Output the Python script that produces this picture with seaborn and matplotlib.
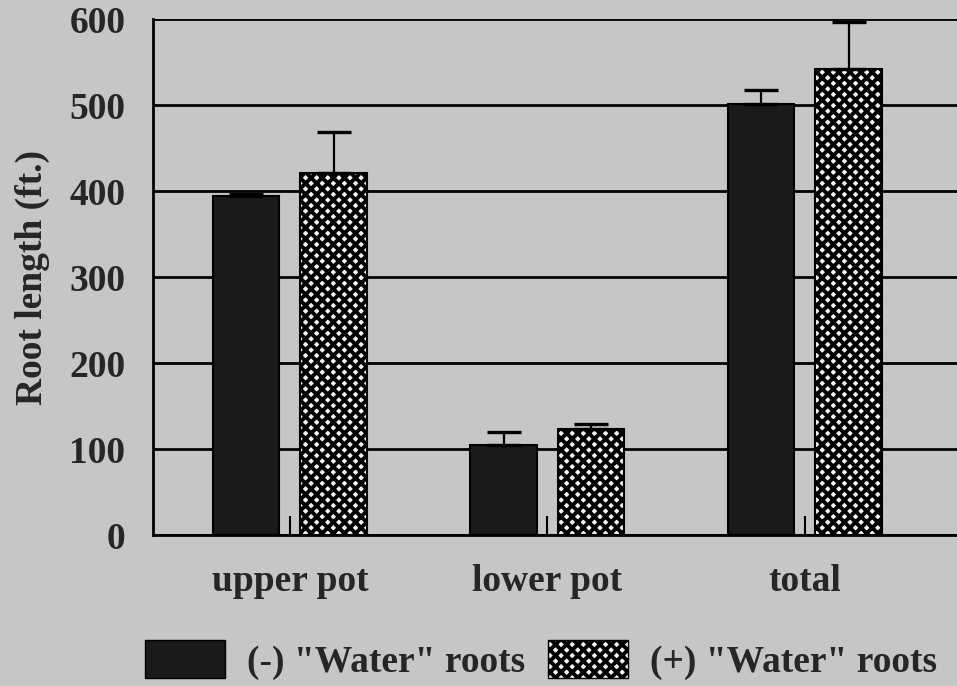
import matplotlib
matplotlib.use("Agg")
import matplotlib.pyplot as plt
import seaborn as sns
import pandas as pd
import numpy as np
from matplotlib.patches import Patch

categories = ["upper pot", "lower pot", "total"]
groups = ['(-) "Water" roots', '(+) "Water" roots']
minus_values = [394, 105, 501]
plus_values = [421, 123, 542]
minus_err = [3, 15, 17]
plus_err = [48, 6, 55]
yticks = [0, 100, 200, 300, 400, 500, 600]

bg = "#c6c6c6"
dark = "#1a1a1a"
hatch = "xxx"
fs = 27

sns.set_theme(style="white")
plt.rcParams["font.family"] = ["Liberation Serif", "DejaVu Serif"]
plt.rcParams["font.weight"] = "bold"
plt.rcParams["hatch.linewidth"] = 2.8
plt.rcParams["hatch.color"] = "#111111"

df = pd.DataFrame({
    "category": categories * 2,
    "group": [groups[0]] * 3 + [groups[1]] * 3,
    "value": minus_values + plus_values,
    "err": minus_err + plus_err,
})

fig = plt.figure(figsize=(9.57, 6.86), dpi=100)
fig.patch.set_facecolor(bg)
ax = fig.add_axes([0.160, 0.220, 0.845, 0.752])
ax.set_facecolor(bg)

sns.barplot(data=df, x="category", y="value", hue="group", order=categories,
            hue_order=groups, palette=[dark, "#ffffff"], width=0.68,
            gap=0.24, edgecolor="black", linewidth=1.5, legend=False, ax=ax,
            zorder=3)

bars = [p for p in ax.patches]
n = len(categories)
for p in bars[n:2 * n]:
    p.set_hatch(hatch)
    p.set_facecolor("#f4f4f4")

# one-sided error bars
for i, p in enumerate(bars[:2 * n]):
    xc = p.get_x() + p.get_width() / 2
    h = p.get_height()
    e = df["err"].iloc[i]
    ax.errorbar([xc], [h], yerr=[[0], [e]], fmt="none", ecolor="black",
                elinewidth=1.6, capsize=12, capthick=2.4, zorder=4)

ax.set_ylim(0, 600)
ax.set_xlim(-0.531, 2.609)
ax.set_yticks(yticks)
ax.set_yticklabels([str(v) for v in yticks], fontsize=fs, fontweight="bold")
ax.yaxis.grid(True, color="black", linewidth=2.0)
ax.set_axisbelow(True)
ax.tick_params(axis="y", left=False, length=0, pad=20)
ax.tick_params(axis="x", bottom=True, direction="in", length=14, width=1.5,
               color="black", pad=21, labelsize=fs)
for lab in ax.get_xticklabels():
    lab.set_fontweight("bold")
ax.set_xlabel("")
ax.set_ylabel("Root length (ft.)", fontsize=fs, fontweight="bold", labelpad=14)

for s in ["left", "bottom"]:
    ax.spines[s].set_visible(True)
    ax.spines[s].set_color("black")
    ax.spines[s].set_linewidth(2.0)
ax.spines["top"].set_visible(False)
ax.spines["right"].set_visible(False)

handles = [
    Patch(facecolor=dark, edgecolor="black", linewidth=1.0),
    Patch(facecolor="#f4f4f4", edgecolor="black", linewidth=1.0, hatch=hatch),
]
leg = fig.legend(handles, groups, loc="center left", bbox_to_anchor=(0.1515, 0.038),
                 ncol=2, frameon=False, handlelength=2.13, handleheight=1.2,
                 handletextpad=0.6, columnspacing=0.6, borderpad=0,
                 borderaxespad=0, prop={"weight": "bold", "size": fs})

fig.savefig("out.png", dpi=100, facecolor=bg)
